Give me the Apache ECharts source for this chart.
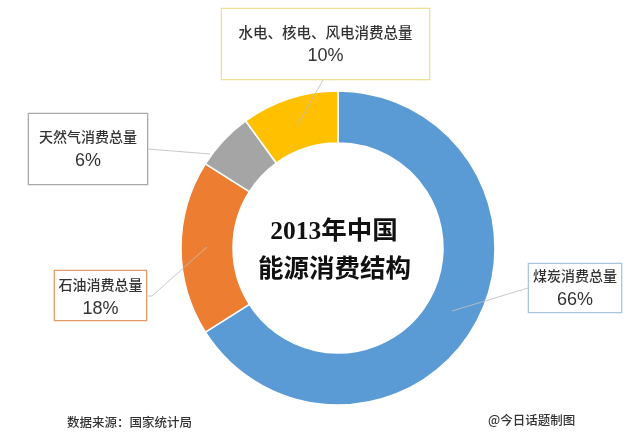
<!DOCTYPE html>
<html><head><meta charset="utf-8">
<script src="https://cdn.jsdelivr.net/npm/echarts@6/dist/echarts.min.js"></script>
<style>html,body{margin:0;padding:0;background:#fff}#c{width:640px;height:442px}</style></head>
<body><div id="c"></div>
<script>
const categories = ['煤炭消费总量','石油消费总量','天然气消费总量','水电、核电、风电消费总量'];
const values = [66,18,6,10];
const colors = ['#5B9BD5','#ED7D31','#A5A5A5','#FFC000'];
const boxBorders = ['#A9C6E0','#E39A66','#A8A8A8','#F2DF94'];
const boxes = [[529,264,92,48],[55,271,91,49],[29,114,118,70],[222,9,207,70]];
const paddingTop = [0,2,11,11];
const nameSizes = [14,14,14,14.5];
const leaders = [[[528,288],[452,311]],[[148,296],[152,296],[207,247]],[[148,149],[210,154]],[[323,80],[298,124]]];
const titleLines = ['2013年中国','能源消费结构'];
const source = '数据来源：国家统计局';
const credit = '@今日话题制图';
const FONT = '"Noto Sans CJK SC","Noto Sans",sans-serif';
const chart = echarts.init(document.getElementById('c'));
chart.setOption({
  animation:false,
  backgroundColor:'#fff',
  series:[{
    type:'pie',
    center:[338,248],
    radius:[105,157],
    startAngle:90,
    clockwise:true,
    silent:true,
    color:colors,
    itemStyle:{borderColor:'#fff',borderWidth:1.5},
    labelLine:{show:false},
    data:categories.map((name,i)=>({
      name,value:values[i],
      label:{
        show:true,
        formatter:'{n|{b}}\n{p|{c}%}',
        backgroundColor:'#fff',
        borderColor:boxBorders[i],
        borderWidth:1.3,
        width:boxes[i][2],
        height:boxes[i][3]-paddingTop[i],
        padding:[paddingTop[i],0,0,0],
        align:'center',
        verticalAlign:'middle',
        rich:{
          n:{fontFamily:FONT,fontWeight:500,fontSize:nameSizes[i],color:'#333',align:'center',lineHeight:24},
          p:{fontFamily:'"Liberation Sans",Arial,sans-serif',fontSize:18,color:'#333',align:'center',lineHeight:24}
        }
      }
    })),
    labelLayout:p=>{
      const b=boxes[p.dataIndex];
      return {x:b[0]+b[2]/2,y:b[1]+b[3]/2,align:'center',verticalAlign:'middle',moveOverlap:false,hideOverlap:false};
    }
  }],
  graphic:[
    ...leaders.map(pts=>({type:'polyline',z:50,silent:true,shape:{points:pts},style:{fill:null,stroke:'#BFBFBF',lineWidth:1,opacity:.85}})),
    ...titleLines.map((t,i)=>({type:'text',z:60,silent:true,x:334+i*.5,y:232+i*38,style:{text:t,fontFamily:'"Liberation Serif","Noto Sans CJK SC",serif',fontWeight:'bold',fontSize:25.5,fill:'#111',align:'center',verticalAlign:'middle'}})),
    {type:'text',z:60,silent:true,x:67,y:422,style:{text:source,fontFamily:FONT,fontWeight:500,fontSize:12.5,fill:'#333',verticalAlign:'middle'}},
    {type:'text',z:60,silent:true,x:488,y:420,style:{text:credit,fontFamily:FONT,fontWeight:500,fontSize:12.5,fill:'#333',verticalAlign:'middle'}}
  ]
});
</script></body></html>
